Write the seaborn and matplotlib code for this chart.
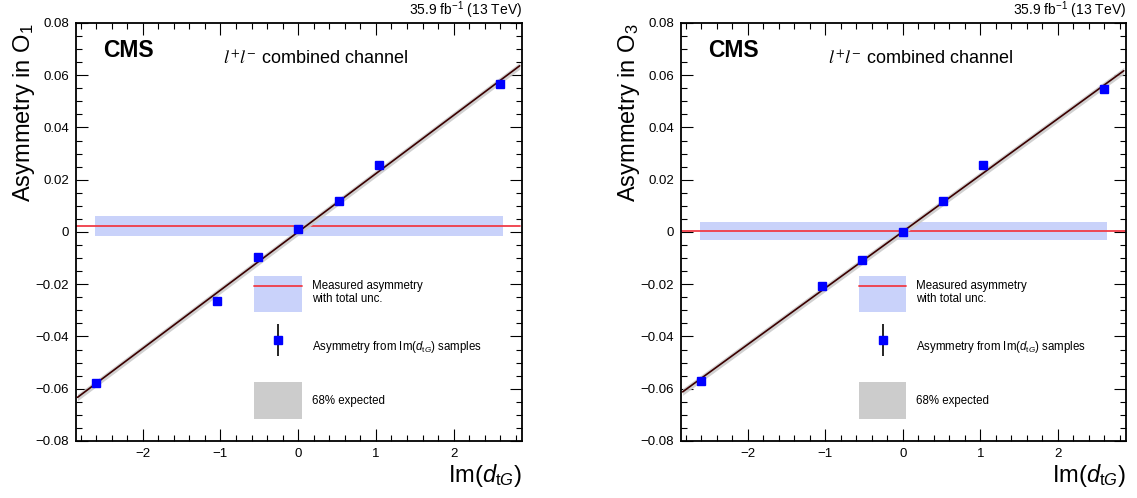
import numpy as np
import matplotlib
matplotlib.use('Agg')
import matplotlib.pyplot as plt
import seaborn as sns
from matplotlib.ticker import MultipleLocator, FuncFormatter
from matplotlib.patches import Patch
from matplotlib.lines import Line2D
from matplotlib.container import ErrorbarContainer
from matplotlib.legend_handler import HandlerErrorbar

# Im(dtG) values of the samples
x_samples = [-2.6, -1.04, -0.52, 0.0, 0.52, 1.04, 2.6]

# asymmetries from the samples
asym_o1 = [-0.0578, -0.0265, -0.0095, 0.0010, 0.0119, 0.0255, 0.0565]
asym_o3 = [-0.0570, -0.0208, -0.0108, -0.0001, 0.0117, 0.0258, 0.0546]
asym_err = [0.0010, 0.0010, 0.0010, 0.0010, 0.0010, 0.0010, 0.0010]

# measured asymmetry (value, band low, band high)
meas_o1 = [0.0024, -0.0015, 0.0062]
meas_o3 = [0.0005, -0.0030, 0.0040]
meas_band_x = [-2.62, 2.63]
meas_line_x = [-2.86, 2.86]

# linear fit of the samples (end points) and 68% expected half width
fit_x = [-2.84, 2.85]
fit_o1 = [-0.0633, 0.0636]
fit_o3 = [-0.0612, 0.0617]
exp_halfwidth = 0.0013

panels = [
    ('O$_{1}$', asym_o1, meas_o1, fit_o1),
    ('O$_{3}$', asym_o3, meas_o3, fit_o3),
]

sns.set_style('ticks')
plt.rcParams['font.family'] = ['Liberation Sans', 'DejaVu Sans']
plt.rcParams['mathtext.fontset'] = 'custom'
plt.rcParams['mathtext.rm'] = 'Liberation Sans'
plt.rcParams['mathtext.it'] = 'Liberation Sans:italic'
plt.rcParams['mathtext.bf'] = 'Liberation Sans:bold'
for k in ['text.color', 'axes.labelcolor', 'xtick.color', 'ytick.color', 'axes.edgecolor']:
    plt.rcParams[k] = 'black'

band_color = '#c9d2fa'
red = '#f03c46'
fit_color = '#3b0000'
grey = '#cccccc'

fig = plt.figure(figsize=(11.37, 4.98), dpi=100)
rects = [[0.0668, 0.1145, 0.3923, 0.8394], [0.599, 0.1145, 0.3914, 0.8394]]

for rect, (obs, asym, meas, fit) in zip(rects, panels):
    ax = fig.add_axes(rect)

    # measured asymmetry band + line
    ax.fill_between(meas_band_x, meas[1], meas[2], color=band_color, lw=0, zorder=1)
    sns.lineplot(x=meas_line_x, y=[meas[0], meas[0]], ax=ax, color=red, lw=1.3, zorder=2)

    # 68% expected band around the fit
    ax.fill_between(fit_x, np.array(fit) - exp_halfwidth, np.array(fit) + exp_halfwidth,
                    color=grey, lw=0, alpha=0.9, zorder=3)
    sns.lineplot(x=fit_x, y=fit, ax=ax, color=fit_color, lw=1.2, zorder=4)

    eb = ax.errorbar(x_samples, asym, yerr=asym_err, fmt='s', color='#0000ff', ms=6,
                     ecolor='black', elinewidth=1.2, capsize=0, zorder=5)

    ax.set_xlim(-2.86, 2.88)
    ax.set_ylim(-0.08, 0.08)
    ax.set_xticks([-2, -1, 0, 1, 2])
    ax.set_yticks([-0.08, -0.06, -0.04, -0.02, 0, 0.02, 0.04, 0.06, 0.08])
    ax.xaxis.set_minor_locator(MultipleLocator(0.2))
    ax.yaxis.set_minor_locator(MultipleLocator(0.005))
    ax.yaxis.set_major_formatter(FuncFormatter(
        lambda v, p: '0' if abs(v) < 1e-9 else ('%g' % round(v, 4)).replace('-', '\u2212')))
    ax.tick_params(which='both', direction='in', top=True, right=True, width=0.8,
                   labelsize=9.5, pad=5)
    ax.tick_params(which='major', length=8.5)
    ax.tick_params(which='minor', length=4.5)
    for s in ax.spines.values():
        s.set_linewidth(1.3)

    ax.set_ylabel('Asymmetry in ' + obs, fontsize=17, loc='top')
    ax.yaxis.set_label_coords(-0.088, 1.0)
    ax.set_xlabel(r'Im($d_{\mathrm{t}G}$)', fontsize=17, loc='right')
    ax.xaxis.set_label_coords(1.0, -0.05)

    ax.text(0.06, 0.919, 'CMS', transform=ax.transAxes, fontsize=16.5,
            fontweight='bold', va='baseline')
    ax.text(0.33, 0.9, r'$l^{+}l^{-}$ combined channel', transform=ax.transAxes,
            fontsize=13, va='baseline', math_fontfamily='stix')
    ax.text(1.0, 1.02, r'35.9 fb$^{-1}$ (13 TeV)', transform=ax.transAxes,
            fontsize=10, ha='right', va='baseline')

    handles = [(Patch(facecolor=band_color, lw=0), Line2D([], [], color=red, lw=1.3)),
               eb,
               Patch(facecolor=grey, lw=0)]
    labels = ['Measured asymmetry\nwith total unc.',
              r'Asymmetry from Im($d_{\mathrm{t}G}$) samples',
              '68% expected']
    ax.legend(handles, labels, loc='upper left', bbox_to_anchor=(0.399, 0.395),
              frameon=False, fontsize=8.3, borderpad=0, handlelength=4.15,
              handleheight=4.5, labelspacing=1.45, handletextpad=0.85,
              borderaxespad=0,
              handler_map={ErrorbarContainer: HandlerErrorbar(yerr_size=1.4, numpoints=1)})

fig.savefig('out.png', dpi=100)
